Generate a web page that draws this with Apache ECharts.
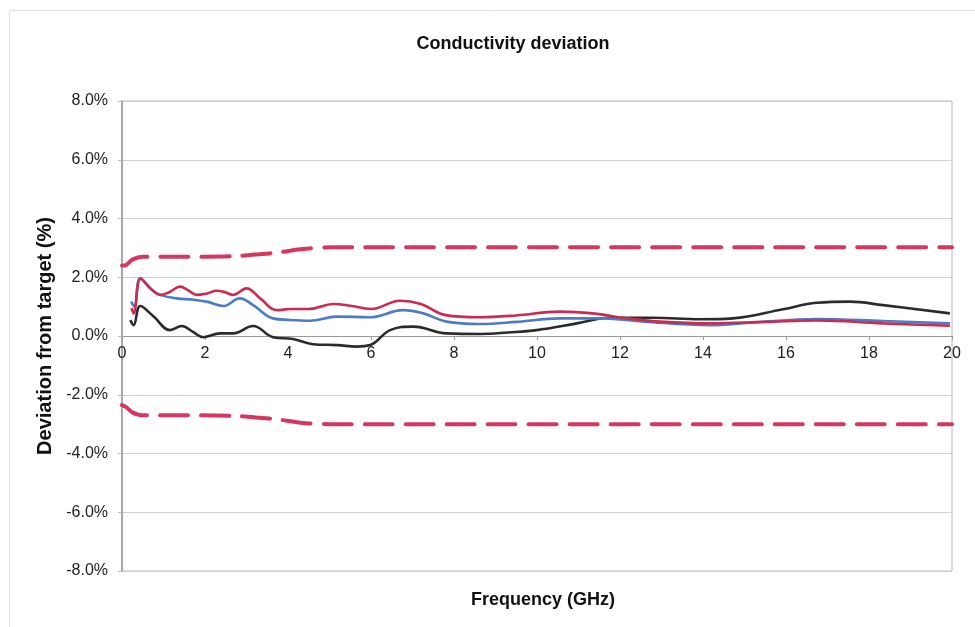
<!DOCTYPE html>
<html>
<head>
<meta charset="utf-8">
<script src="https://cdn.jsdelivr.net/npm/echarts@6/dist/echarts.min.js"></script>
<style>
html,body{margin:0;padding:0;background:#fff;}
#chart{width:975px;height:627px;}
</style>
</head>
<body>
<div id="chart"></div>
<script>
// ---- Data (frequency in GHz, deviation in %) ----
const titleText = "Conductivity deviation";
const xAxisTitle = "Frequency (GHz)";
const yAxisTitle = "Deviation from target (%)";

const redX = [0.23,0.28,0.45,0.7,0.92,1.15,1.4,1.6,1.8,2.05,2.28,2.5,2.68,3.0,3.33,3.73,4.05,4.5,5.1,5.5,6.0,6.7,7.2,7.8,8.6,9.5,10.55,11.35,12.16,12.96,14.17,15.5,16.74,18.34,19.95];
const redY = [0.95,0.77,1.95,1.6,1.40,1.5,1.68,1.55,1.40,1.45,1.54,1.48,1.40,1.62,1.28,0.88,0.92,0.92,1.09,1.03,0.92,1.20,1.09,0.71,0.64,0.70,0.83,0.77,0.60,0.49,0.43,0.48,0.53,0.43,0.35];

const blueX = [0.22,0.3,0.44,0.7,0.92,1.32,1.7,2.04,2.44,2.84,3.16,3.64,4.0,4.53,5.17,5.98,6.77,7.26,7.82,8.63,9.5,10.55,11.6,12.56,14.17,15.13,16.74,18.34,19.95];
const blueY = [1.17,1.0,1.97,1.6,1.40,1.28,1.24,1.17,1.02,1.28,1.05,0.60,0.55,0.52,0.66,0.64,0.88,0.77,0.49,0.41,0.48,0.60,0.60,0.49,0.37,0.45,0.58,0.51,0.43];

const blackX = [0.2,0.28,0.44,0.75,1.16,1.44,1.7,1.96,2.36,2.68,3.16,3.64,4.12,4.6,5.2,5.65,5.98,6.46,7.02,7.82,8.63,9.3,9.99,10.96,11.76,12.8,13.93,14.72,15.93,16.74,17.54,18.34,19.95];
const blackY = [0.54,0.37,1.02,0.68,0.20,0.34,0.15,-0.04,0.09,0.09,0.34,-0.04,-0.10,-0.28,-0.31,-0.36,-0.31,0.20,0.32,0.09,0.07,0.12,0.20,0.43,0.62,0.62,0.57,0.60,0.91,1.13,1.17,1.05,0.77];

const limitX = [0,0.1,0.25,0.5,1.5,2.7,3.3,3.8,4.3,5.0,6.0,20];
const upperY = [2.4,2.42,2.6,2.7,2.7,2.72,2.78,2.85,2.95,3.02,3.02,3.02];
const lowerY = [-2.35,-2.42,-2.6,-2.7,-2.7,-2.72,-2.78,-2.85,-2.95,-3.0,-3.0,-3.0];

const xTicks = [0,2,4,6,8,10,12,14,16,18,20];
const yTicks = [-8,-6,-4,-2,0,2,4,6,8];

function pairs(xs, ys){ return xs.map((x,i)=>[x, ys[i]]); }

const FONT = "Liberation Sans, Arial, sans-serif";
const chart = echarts.init(document.getElementById('chart'), null, {renderer:'canvas'});

const GRID = {left:122, right:23, top:101, bottom:56};
const plotH = 627 - GRID.top - GRID.bottom;

const lineSeries = (name, xs, ys, color, width) => ({
  name, type:'line', data: pairs(xs, ys), smooth: 0.4, symbol:'none',
  lineStyle:{color, width}, z: 3
});
const dashSeries = (name, xs, ys) => ({
  name, type:'line', data: pairs(xs, ys), smooth: 0.3, symbol:'none',
  lineStyle:{color:'#d6365f', width:4, type:[28,13], cap:'round'}, z: 2
});

chart.setOption({
  animation:false,
  backgroundColor:'#fff',
  title:{
    text:titleText, left:508, top:30, textAlign:'center',
    textStyle:{fontFamily:FONT, fontSize:18, fontWeight:'bold', color:'#111'}
  },
  grid:Object.assign({show:true, borderColor:'#b8b8b8', borderWidth:1, backgroundColor:'transparent'}, GRID),
  graphic:[
    {type:'rect', shape:{x:9.5, y:10.5, width:1000, height:700}, style:{fill:'none', stroke:'#e2e2e2', lineWidth:1}, silent:true},
    {type:'text', left:471, top:591, style:{text:xAxisTitle, fontFamily:FONT, fontSize:18, fontWeight:'bold', fill:'#111'}}
  ],
  xAxis:{
    type:'value', min:0, max:20, interval:2,
    position:'bottom', offset:-plotH/2,
    axisLine:{show:true, onZero:false, lineStyle:{color:'#999', width:1}},
    axisTick:{show:true, length:4, lineStyle:{color:'#999'}},
    axisLabel:{fontFamily:FONT, fontSize:16, color:'#222', margin:10,
      formatter:v=> xTicks.includes(v) ? String(v) : ''},
    splitLine:{show:false}
  },
  yAxis:{
    type:'value', min:-8, max:8, interval:2,
    name:yAxisTitle, nameLocation:'middle', nameGap:66,
    nameTextStyle:{fontFamily:FONT, fontSize:20, fontWeight:'bold', color:'#111'},
    axisLine:{show:true, lineStyle:{color:'#999', width:1.5}},
    axisTick:{show:true, length:4, lineStyle:{color:'#bbb'}},
    axisLabel:{fontFamily:FONT, fontSize:16, color:'#222', margin:14,
      formatter:v=> yTicks.includes(v) ? v.toFixed(1)+'%' : ''},
    splitLine:{show:true, lineStyle:{color:'#d0d0d0', width:1}}
  },
  series:[
    dashSeries('Upper limit', limitX, upperY),
    dashSeries('Lower limit', limitX, lowerY),
    lineSeries('Black', blackX, blackY, '#2b2b2b', 2.6),
    lineSeries('Blue', blueX, blueY, '#4a7cc8', 2.6),
    lineSeries('Red', redX, redY, '#cc2a4e', 2.6)
  ]
});
</script>
</body>
</html>
